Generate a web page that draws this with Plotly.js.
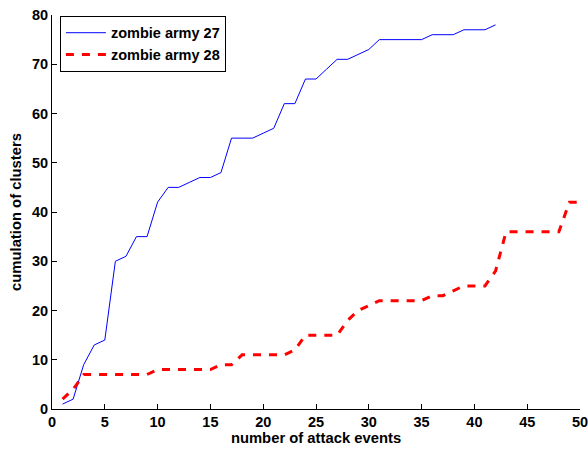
<!DOCTYPE html>
<html>
<head>
<meta charset="utf-8">
<script src="https://cdn.plot.ly/plotly-3.0.1.min.js"></script>
<style>html,body{margin:0;padding:0;background:#fff;}#chart{width:588px;height:449px;}</style>
</head>
<body>
<div id="chart"></div>
<script>
const eventsArmy27 = [1,2,3,4,5,6,7,8,9,10,11,12,13,14,15,16,17,18,19,20,21,22,23,24,25,26,27,28,29,30,31,32,33,34,35,36,37,38,39,40,41,42];
const clustersArmy27 = [1,2,9,13,14,30,31,35,35,42,45,45,46,47,47,48,55,55,55,56,57,62,62,67,67,69,71,71,72,73,75,75,75,75,75,76,76,76,77,77,77,78];
const eventsArmy28 = [1,2,3,4,5,6,7,8,9,10,11,12,13,14,15,16,17,18,19,20,21,22,23,24,25,26,27,28,29,30,31,32,33,34,35,36,37,38,39,40,41,42,43,44,45,46,47,48,49,50];
const clustersArmy28 = [2,4,7,7,7,7,7,7,7,8,8,8,8,8,8,9,9,11,11,11,11,11,12,15,15,15,15,18,20,21,22,22,22,22,22,23,23,24,25,25,25,28,36,36,36,36,36,36,42,42];
const seriesNames = ['zombie army 27', 'zombie army 28'];

const fam = 'Liberation Sans, Arial, sans-serif';
const tickFont = {family: fam, size: 14.5, color: '#000', weight: 'bold'};
const titleFont = {family: fam, size: 14.8, color: '#000', weight: 'bold'};

const traces = [
  {x: eventsArmy27, y: clustersArmy27, name: seriesNames[0], type: 'scatter', mode: 'lines',
   line: {color: '#0000ff', width: 1}},
  {x: eventsArmy28, y: clustersArmy28, name: seriesNames[1], type: 'scatter', mode: 'lines',
   line: {color: '#ff0000', width: 3, dash: '8px,8px'}}
];

const axisCommon = {
  showline: true, linecolor: '#000', linewidth: 1, mirror: false,
  ticks: 'inside', ticklen: 5, tickcolor: '#000', tickwidth: 1,
  showgrid: false, zeroline: false,
  tickfont: tickFont, ticklabeloverflow: 'allow'
};

const layout = {
  width: 588, height: 449,
  margin: {l: 52, r: 8, t: 15, b: 40},
  paper_bgcolor: '#fff', plot_bgcolor: '#fff',
  font: {family: fam, size: 14.5, color: '#000'},
  showlegend: true,
  legend: {
    x: 0.015, y: 0.998, xanchor: 'left', yanchor: 'top',
    bgcolor: '#fff', bordercolor: '#000', borderwidth: 1,
    font: {family: fam, size: 14.5, color: '#000', weight: 'bold'},
    tracegroupgap: 0, itemwidth: 40
  },
  xaxis: Object.assign({}, axisCommon, {
    range: [0, 50], dtick: 5, tick0: 0,
    title: {text: 'number of attack events', font: titleFont, standoff: 2}
  }),
  yaxis: Object.assign({}, axisCommon, {
    range: [0, 80], dtick: 10, tick0: 0,
    title: {text: 'cumulation of clusters', font: titleFont, standoff: 6}
  })
};

Plotly.newPlot('chart', traces, layout, {staticPlot: true, displayModeBar: false});
</script>
</body>
</html>
